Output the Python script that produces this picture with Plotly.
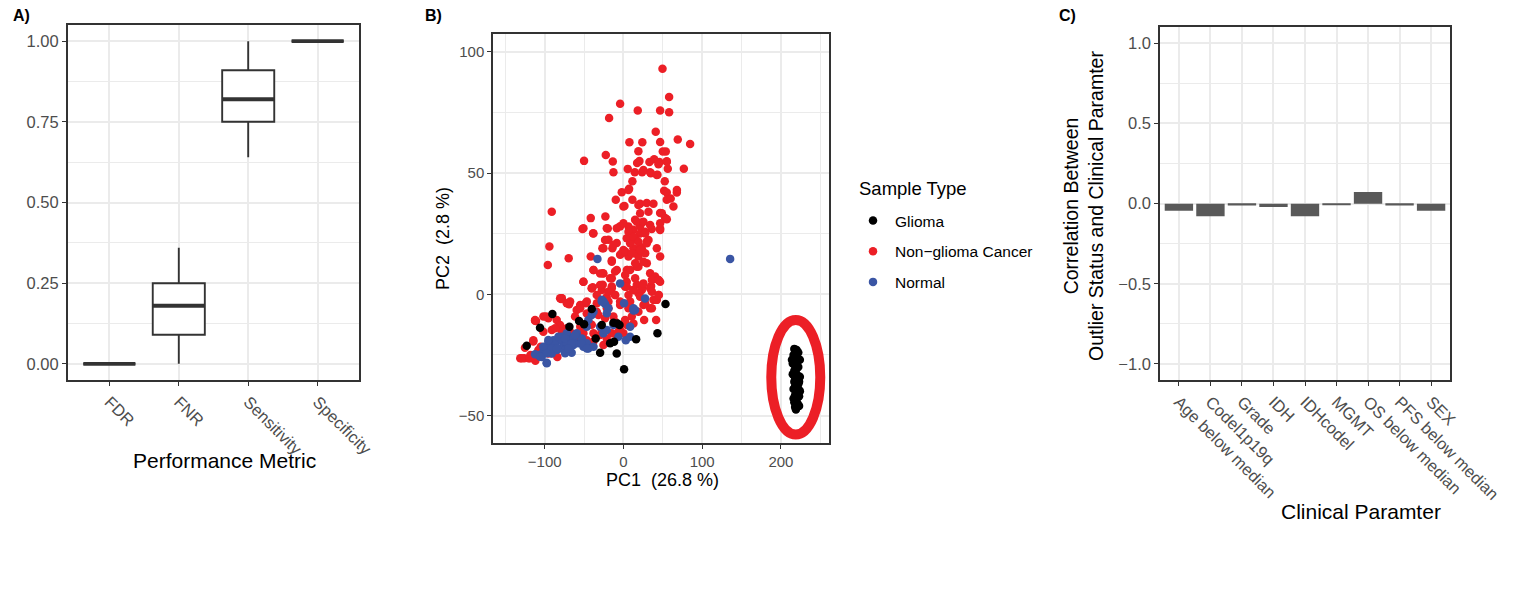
import plotly.graph_objects as go

# ---------------- Panel A data ----------------
metrics = ["FDR", "FNR", "Sensitivity", "Specificity"]
a_low = [0.0, 0.0, 0.64, 1.0]
a_q1 = [0.0, 0.09, 0.75, 1.0]
a_med = [0.0, 0.18, 0.82, 1.0]
a_q3 = [0.0, 0.25, 0.91, 1.0]
a_high = [0.0, 0.36, 1.0, 1.0]
a_yticks = [0.0, 0.25, 0.50, 0.75, 1.00]

# ---------------- Panel B data ----------------
red_x = [49.6, 58, -4.2, 18.2, 46.6, 58, -18.2, 41, 69, 84.7, 7.6, 24, 46.6, -22.4, 19, 50, 53.8, -13.5, -50, 33,
         45.7, 55, 17.4, -12.7, 5.5, 14.4, 23.7, 33.9, 43.2, 56.3, 76.7, 11.4, 52.5, -2.1, 7.2, 51.7, 55, 67.8, -9.7, 11.4,
         0, 21.2, 29.6, 38.1, 55, 60, 63.5, 20.3, 25.4, 34.8, 39, 44.5, 55.1, 42.4, 6.4, 67.9,
         -91, -41.5, -22.9, 14.8, 23.3, 46.6, 53, -52, -38.5, -19.9, -4.2, 12.7, 21.2, 36, 46.6, -19, -8.5, 4.2, 15.7, 29.6,
         -94, -26.7, -14, 0, 12.7, 23.3, -96, -69.5, -41.5, -14.8, -4.2, 6.4, 19, 46.6, -38, -26.3, -10.6, 5, 19, 33.9,
         44.5, -50.8, -39, -26.3, -14.8, 4.2, 17, 24.1, 35.2, 45,
         1.3, 19, 21.2, 31.8, 17, 25.4, 48.8, 55.1, 6.4, 21.2, 27.6, 14.9, 31.8, 8.5, 21.2, -2, 12.7, 27.6, 42.4, 46.6,
         -21.1, -29.6, -16.9, -8.4, 4.3, 17, 29.7, 40.3, 46.6, -40.2, -27.5, -14.8, 2.2, 12.7, 23.4, 33.9,
         -79.2, -69, -47.9, -33.9, -21.2, -10.6, 6.4, 19, 38.1, 41.5, 33.9, -111, -98.3, -84.7, -59.3, -61.4, -46.6, -33.9, -19, -4.2,
         6.4, 19, 26.3, -126, -120.6, -111.8, -114.4, -105, -91, -80.5, -72, -65.7, -54.8, -44.5, -38, -23.3, -12.7, -6.4, 2.1, 10.6,
         -27.5, -14.8, 0, -93, -83.9, -69.9, -76.2, -95.3, -108, -59.3, -46.6, -29.6, -21.2, -8.5, 4.2, -4.2, 12.7,
         -78.3, -67.7, -55, -33.8, -19, 8.5, 25.4, 42.4, -131, -125, -118, -112.2, -101.6, -80.4,
         -50.8, -38.1, -23.3, -12.7, -8.4, 0, 6.4, 12.7, 19, 27.6, 29.7, 2.2, 10.7, 21.2, 33.9, 46.6, -25.4, -14.8, 14.9, 25.4,
         8.5, -38.1, -25.4, -14.8, 2.2, 14.9, 25.4, 36.1, 44.5, -40.2, -29.6, -50.8, 4.3, 12.7, 36.1, 44.5, -10.5, -19, -4.2, 21.2,
         27.6, 36.1,
         -129.1, -118.6, -114.4, -112.2, -95.3, -78.3, -71.9, -55, -46.5, -40.2, -50.8, -108, -91, -78.3, -86.8, -101.7,
         -31.8, -21.1, -10.5, -6.4, -38.1, -25.4]
red_y = [93, 81.3, 78.5, 75.8, 75.8, 75, 72.7, 67, 63.8, 62, 62.7, 62.7, 62.8, 57.4, 59, 58.9, 58.9, 54.7, 55, 54.5,
         54.5, 54.8, 54.1, 50.3, 51.7, 50.3, 50.3, 50.3, 49.3, 51.8, 51.8, 46.6, 46.6, 42.1, 43.5, 42.7, 42, 42, 39, 39,
         36.2, 37.3, 37.6, 37.3, 39, 39.5, 36.2, 54.9, 51.2, 49.9, 55.7, 53.6, 54.6, 49.2, 43, 43,
         34, 31.4, 32.1, 30.7, 29.6, 33.5, 31.4, 26.9, 25.2, 27.1, 28, 26.6, 28, 26.9, 27.1, 22.5, 21.1, 23.1, 22.5, 21.8,
         19.7, 19, 19, 18.3, 19, 19, 12.1, 14.9, 15.6, 13.9, 16.3, 15.6, 15.6, 15.6, 10, 8.7, 9.4, 10, 11.4, 8.7,
         5.9, 5.2, 2.9, 3.9, 3.2, 5.2, 3.9, 3.2, 3.4, -0.3,
         36.4, 36.8, 33.4, 34, 29.9, 29.9, 33.4, 30.9, 27.9, 25.1, 25.8, 23.1, 22.4, 21, 19.6, 16.9, 16.9, 16.9, 19, 26.5,
         27.2, 8.6, 6.6, 10, 10, 11.4, 12.8, 7.3, 5.2, 2.5, 1.8, 2.5, 3.1, 1.8, 1.8, 2.5,
         -1.9, -4.1, -3.7, -0.3, -1, -0.3, -0.3, 0.4, -2.3, -10.6, -5.8, -11, -9.2, -10.6, -6.5, -9.2, -7.9, -7.2, -5.8, -4.4,
         -5.8, -7.2, -10.6, -26.4, -26.4, -27.4, -18.9, -21.6, -14.7, -12.7, -14, -16.1, -13.4, -11.3, -16.1, -9.9, -9.2, -12.7, -10.6, -9.2,
         -14.7, -16.1, -16.1, -20.9, -25.8, -21.6, -17.5, -24.4, -23.7, -17.5, -18.9, -16.8, -18.2, -16.8, -12.7, -14.7, -12,
         -1.6, -3, -4.4, -3.7, -3, -3, -4.4, -2.3, -26.4, -22, -25, -10.9, -9.2, -1.6,
         27.2, 25.1, 22.4, 20.3, 27.2, 29.3, 25.8, 23.7, 21.7, 25.1, 21, 17.6, 16.9, 18.3, 28.6, 29.3, 19, 13.4, 12.8, 13.4,
         10, 10, 8.6, 6.6, 8, 6.6, 4.5, 5.9, 5.9, 2.5, 3.8, 5.2, 3.1, 1.8, 1.1, -0.3, -0.3, 1.1, -3, -1,
         -3.7, -5.8,
         -26.4, -26.4, -19.5, -10.6, -9.9, -1.6, -3.7, -5.8, -3, -12.6, -16.1, -23, -24.3, -15.4, -14, -15.4,
         -8.5, -5.8, -11.3, -15.4, -19.5, -20.9]

blue_x = [135.5, -33, -4.2, 27.5, -27.5, -23.3, -19, 12.7, 0.8, -38, -44.5, -46.6, -29.6, -12.7, 8.5, 14.8, 3, -6.4,
          -59.3, -65.7, -72, -78.4, -76.2, -82.6, -89, -95.3, -97.4, -101.7, -108, -103.8, -97.4, -91, -84.7, -80.5, -72,
          -65.7, -63.5, -57.2, -50.8, -44.5, -46.6, -38, -67.8, -74.1, -86.9, -91, -101.7, -112.2, -63.5, -52.9, -25.4,
          -21.2, 8.5,
          -27.4, 12.7, -95.3, -82.6, -74.1, -61.4, -65.6, -84.6, -97.3, -105.8, -97.3, -52.9, -46.5, -25.4, -21.1, -40.2,
          -74.1, -69.9]
blue_y = [14.6, 14.6, 4.5, -1.7, -3, -4, -5.8, -6.7, -3.7, -7.2, -10.6, -13.4, -13.4, -12.7, -13.4, -6.5, -18.9, -17.5,
          -16.1, -17.8, -16.1, -17.5, -20.2, -18.9, -18.9, -19.6, -22.3, -23.7, -25, -25.8, -28.2, -24.4, -23, -22.3, -20.2,
          -24.1, -20.9, -20.2, -21.6, -22.3, -20.2, -21.6, -22.3, -23, -20.9, -22.3, -21.6, -24.7, -18, -18.2, -16.1,
          -14.7, -17.5,
          -2.3, -5.8, -18.8, -17.5, -18.1, -16.8, -20.2, -22.3, -24.3, -25.7, -28.4, -20.2, -22.3, -3, -7.8, -8.5,
          -24.3, -22.3]

black_x = [53.4, -40.2, -90.2, -105.9, -122.8, -68.6, -56.3, -50, -27.5, -12.7, -7.6, -5, -35.2, -16.9, -11.9, -29.6,
           -8.5, 16.1, 43.2, 0.8,
           217, 220, 222, 216, 219, 221, 215, 218, 220, 217, 219, 221, 218, 220, 222, 219, 221, 223, 220, 218,
           221, 219, 217, 220, 218, 219, 222, 224,
           214, 224, 215, 224, 216, 223, 216, 223, 218, 222, 218, 221, 217, 223]
black_y = [-4, -6.1, -8.1, -13.8, -21.2, -13.4, -11, -12.3, -12.7, -11.7, -12, -12.7, -18.2, -20.2, -19.6, -24.1,
           -24.4, -18.5, -16.1, -30.9,
           -22.5, -23, -24, -25, -26.5, -27.5, -28.5, -29.5, -30.5, -31.5, -32.5, -33.5, -34.5, -35.5, -36.5, -37.5,
           -38.5, -39.5, -40.5, -41.5, -42.5, -43.5, -44.5, -45.5, -46.5, -47.5, -37, -40,
           -27, -27, -33, -34, -39, -42, -43, -46, -24.5, -30, -38, -45, -36, -36]

b_xticks = [-100, 0, 100, 200]
b_yticks = [-50, 0, 50, 100]

# ---------------- Panel C data ----------------
clin_params = ["Age below median", "Codel1p19q", "Grade", "IDH", "IDHcodel", "MGMT",
               "OS below median", "PFS below median", "SEX"]
clin_corr = [-0.044, -0.079, -0.012, -0.021, -0.079, -0.006, 0.073, -0.012, -0.044]
c_yticks = [-1.0, -0.5, 0.0, 0.5, 1.0]

# ---------------- styling ----------------
WIN_W, WIN_H = 1523, 607
PAD = 8  # default page body margin
W, H = WIN_W - 2 * PAD, WIN_H - 2 * PAD
FONT = "Liberation Sans, Arial, Helvetica, sans-serif"
GRID = "#EBEBEB"
FRAME = "#333333"
TICKC = "#4D4D4D"
RED = "#EC1F26"
BLUE = "#3A55A4"
BLACK = "#000000"


def px_x(p):
    return (p - PAD) / W


def px_y(p):
    return 1 - (p - PAD) / H


fig = go.Figure()

# Panel A boxes
box_w = 0.75
fig.add_trace(go.Box(
    x=list(range(len(metrics))), q1=a_q1, median=a_med, q3=a_q3,
    lowerfence=a_low, upperfence=a_high, width=box_w,
    fillcolor="white", line=dict(color=FRAME, width=1.9), whiskerwidth=0,
    boxpoints=False, showlegend=False, xaxis="x", yaxis="y", hoverinfo="skip"))
mx, my = [], []
for i, m in enumerate(a_med):
    mx += [i - box_w / 2, i + box_w / 2, None]
    my += [m, m, None]
fig.add_trace(go.Scatter(x=mx, y=my, mode="lines", line=dict(color=FRAME, width=3.8),
                         showlegend=False, xaxis="x", yaxis="y", hoverinfo="skip"))

# Panel B scatter
fig.add_trace(go.Scatter(x=red_x, y=red_y, mode="markers", name="Non\u2212glioma Cancer",
                         marker=dict(color=RED, size=8.5), xaxis="x2", yaxis="y2",
                         legendgroup="b", legendrank=2))
fig.add_trace(go.Scatter(x=blue_x, y=blue_y, mode="markers", name="Normal",
                         marker=dict(color=BLUE, size=8.5), xaxis="x2", yaxis="y2",
                         legendgroup="c", legendrank=3))
fig.add_trace(go.Scatter(x=black_x, y=black_y, mode="markers", name="Glioma",
                         marker=dict(color=BLACK, size=8.5), xaxis="x2", yaxis="y2",
                         legendgroup="a", legendrank=1))

# Panel C bars
fig.add_trace(go.Bar(x=clin_params, y=clin_corr, marker=dict(color="#595959", line=dict(width=0)),
                     showlegend=False, xaxis="x3", yaxis="y3", hoverinfo="skip"))


def common(size):
    return dict(showline=True, mirror=True, linecolor=FRAME, linewidth=1.5,
                ticks="outside", ticklen=4, tickwidth=1.2, tickcolor=FRAME,
                gridcolor=GRID, gridwidth=1.6, zeroline=False, automargin=False,
                tickfont=dict(family=FONT, size=size, color=TICKC), fixedrange=True)


minor = dict(showgrid=True, gridcolor=GRID, gridwidth=0.8, ticks="")

fig.update_layout(
    width=W, height=H, margin=dict(l=0, r=0, t=0, b=0, autoexpand=False),
    paper_bgcolor="white", plot_bgcolor="white",
    font=dict(family=FONT, color="black"),
    bargap=0.1, boxgap=0.25, boxgroupgap=0,
    xaxis=dict(domain=[px_x(67.7), px_x(359.3)], anchor="y", range=[-0.6, 3.6],
               tickvals=list(range(len(metrics))), ticktext=metrics, tickangle=45, **common(16.5)),
    yaxis=dict(domain=[px_y(380), px_y(25)], anchor="x", range=[-0.05, 1.05],
               tickvals=a_yticks, ticktext=["%.2f" % v for v in a_yticks],
               minor=dict(tickvals=[0.125, 0.375, 0.625, 0.875], **minor), **common(16.5)),
    xaxis2=dict(domain=[px_x(493), px_x(829)], anchor="y2", range=[-165.6, 261],
                tickvals=b_xticks, minor=dict(tickvals=[-150, -50, 50, 150, 250], **minor), **common(15)),
    yaxis2=dict(domain=[px_y(443), px_y(34)], anchor="x2", range=[-61.3, 107.3],
                tickvals=b_yticks, minor=dict(tickvals=[-25, 25, 75], **minor), **common(15)),
    xaxis3=dict(domain=[px_x(1160), px_x(1450)], anchor="y3", type="category", range=[-0.6, 8.6],
                tickangle=45, **common(16.5)),
    yaxis3=dict(domain=[px_y(380), px_y(27.3)], anchor="x3", range=[-1.1, 1.1],
                tickvals=c_yticks, ticktext=["%.1f" % v if v >= 0 else "\u2212%.1f" % abs(v) for v in c_yticks],
                minor=dict(tickvals=[-0.75, -0.25, 0.25, 0.75], **minor), **common(16.5)),
    legend=dict(x=px_x(851), xanchor="left", y=px_y(204), yanchor="top",
                font=dict(family=FONT, size=15.5, color="black"),
                traceorder="grouped", tracegroupgap=7.5, itemwidth=34,
                bgcolor="rgba(0,0,0,0)"),
    shapes=[dict(type="circle", xref="x2", yref="y2", x0=218.8 - 31.1, x1=218.8 + 31.1,
                 y0=-34.2 - 23.6, y1=-34.2 + 23.6, line=dict(color=RED, width=10), layer="above")],
)

ann = [
    dict(text="<b>A)</b>", x=px_x(11), y=px_y(16), xanchor="left", yanchor="middle",
         font=dict(family=FONT, size=16, color="black")),
    dict(text="<b>B)</b>", x=px_x(423), y=px_y(16), xanchor="left", yanchor="middle",
         font=dict(family=FONT, size=16, color="black")),
    dict(text="<b>C)</b>", x=px_x(1057), y=px_y(16), xanchor="left", yanchor="middle",
         font=dict(family=FONT, size=16, color="black")),
    dict(text="Performance Metric", x=px_x(224), y=px_y(460), xanchor="center", yanchor="middle",
         font=dict(family=FONT, size=21, color="black")),
    dict(text="PC1  (26.8 %)", x=px_x(662), y=px_y(480), xanchor="center", yanchor="middle",
         font=dict(family=FONT, size=18, color="black")),
    dict(text="PC2  (2.8 %)", x=px_x(443), y=px_y(239), xanchor="center", yanchor="middle",
         textangle=-90, font=dict(family=FONT, size=18, color="black")),
    dict(text="Correlation Between<br>Outlier Status and Clinical Paramter", x=px_x(1083), y=px_y(206),
         xanchor="center", yanchor="middle", textangle=-90, font=dict(family=FONT, size=19.5, color="black")),
    dict(text="Clinical Paramter", x=px_x(1361), y=px_y(511), xanchor="center", yanchor="middle",
         font=dict(family=FONT, size=21, color="black")),
    dict(text="Sample Type", x=px_x(857), y=px_y(188), xanchor="left", yanchor="middle",
         font=dict(family=FONT, size=18.5, color="black")),
]
for a in ann:
    a.update(xref="paper", yref="paper", showarrow=False)
fig.update_layout(annotations=ann)

fig.write_html("out.html")
